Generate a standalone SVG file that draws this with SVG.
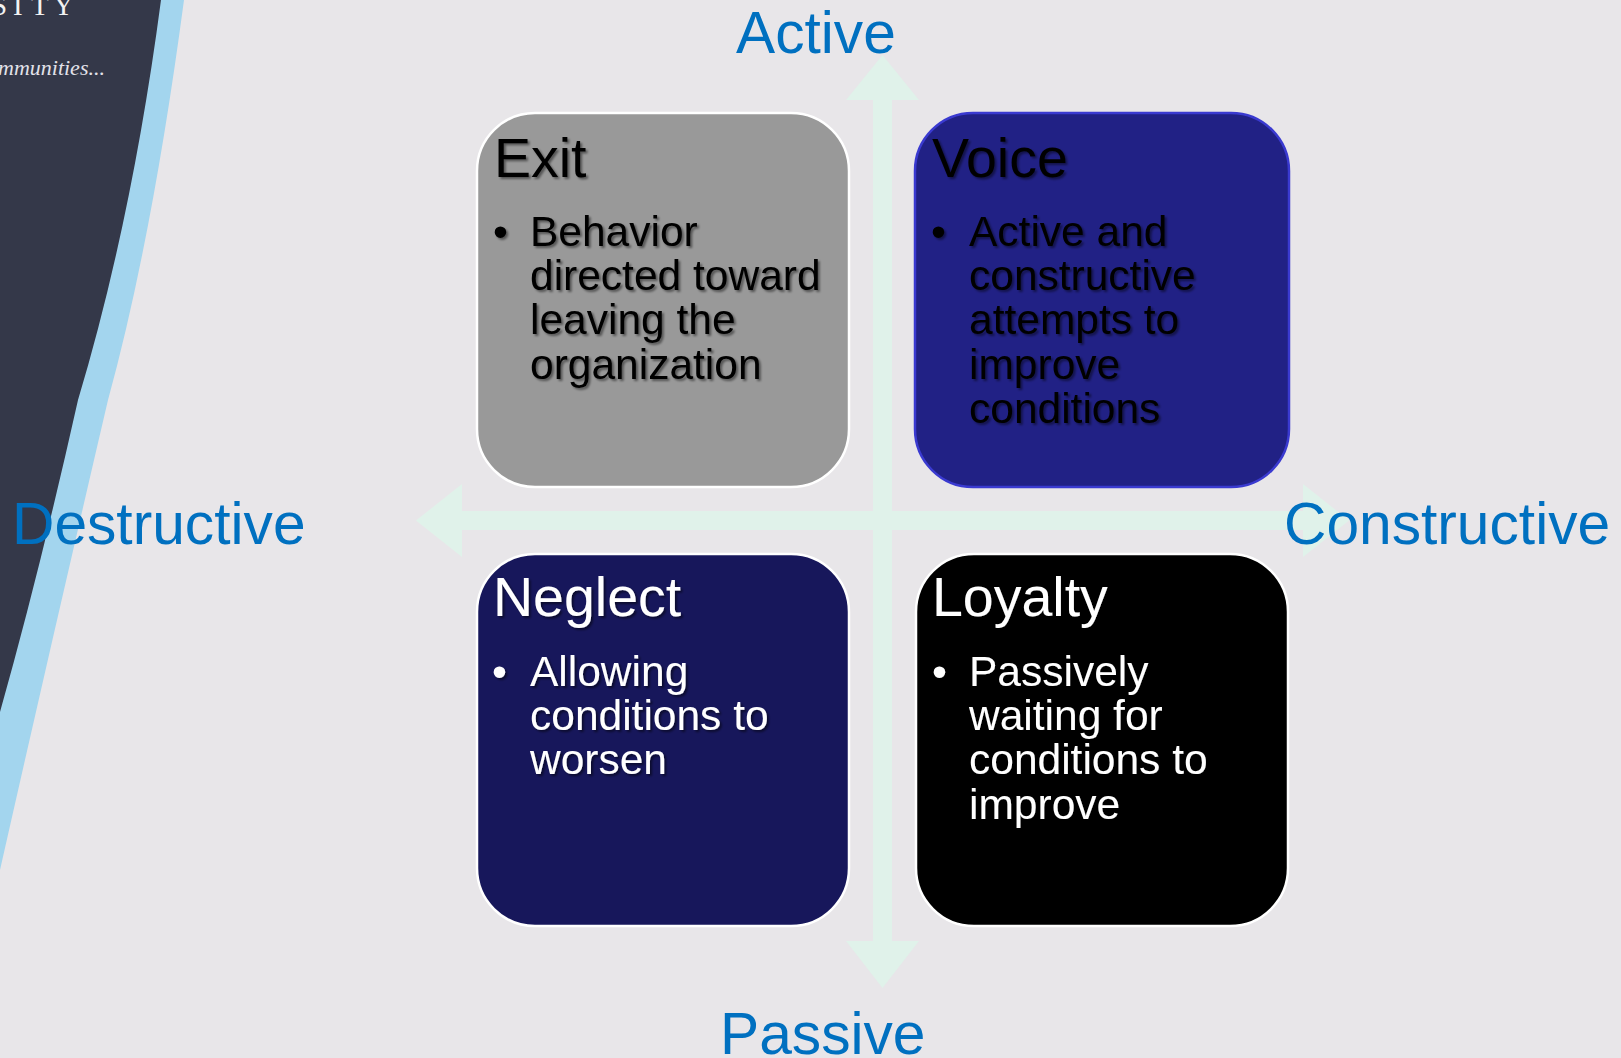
<svg xmlns="http://www.w3.org/2000/svg" width="1621" height="1058" viewBox="0 0 1621 1058">
  <defs>
    <style>
      .bg { fill: #e8e6e9; }
      .axis { fill: #e0f2ea; }
      .box { stroke-width: 2.5; }
      .title { font-family: "Liberation Sans", Arial, sans-serif; font-size: 55.5px; }
      .body { font-family: "Liberation Sans", Arial, sans-serif; font-size: 42.5px; }
      .label { font-family: "Liberation Sans", Arial, sans-serif; font-size: 58.7px; fill: #0070c0; }
      .dark { fill: #000000; filter: url(#shadow); }
      .light { fill: #ffffff; filter: url(#shadowLight); }
    </style>
    <filter id="shadow" x="-10%" y="-20%" width="130%" height="150%">
      <feDropShadow dx="2" dy="2" stdDeviation="1.3" flood-color="#000000" flood-opacity="0.45"/>
    </filter>
    <filter id="shadowLight" x="-10%" y="-20%" width="130%" height="150%">
      <feDropShadow dx="2" dy="2" stdDeviation="1.3" flood-color="#000000" flood-opacity="0.5"/>
    </filter>
  </defs>

  <rect class="bg" x="0" y="0" width="1621" height="1058"/>

  <!-- left decoration -->
  <g id="decoration">
    <path d="M0,0 L184,0 Q152,240 108,400 Q52,640 0,870 Z" fill="#a3d5ee"/>
    <path d="M0,0 L161,0 Q132,220 78,400 Q40,570 0,712 Z" fill="#343849"/>
    <text font-family="'Liberation Serif', 'Times New Roman', serif" font-size="29" fill="#f2f2f2" x="-9 13 31 53" y="15">SITY</text>
    <text font-family="'Liberation Serif', 'Times New Roman', serif" font-size="22" font-style="italic" fill="#e2e2ea" x="-2" y="75">mmunities...</text>
  </g>

  <!-- connectors: axes -->
  <g id="connectors">
    <path class="axis" d="M416,520.5 L462,484 L462,511 L1303,511 L1303,484 L1349,520.5 L1303,557 L1303,530 L462,530 L462,557 Z"/>
    <path class="axis" d="M882.5,55 L919,100 L892,100 L892,941 L919,941 L882.5,988 L846,941 L873,941 L873,100 L846,100 Z"/>
  </g>

  <!-- nodes -->
  <g id="exit">
    <rect class="box" x="477" y="113" width="372" height="374" rx="58" ry="58" fill="#999999" stroke="#ffffff"/>
    <text class="title dark" x="494" y="177">Exit</text>
    <text class="body dark" x="493" y="246">•</text>
    <text class="body dark">
      <tspan x="530" y="246">Behavior</tspan>
      <tspan x="530" y="290.2">directed toward</tspan>
      <tspan x="530" y="334.4">leaving the</tspan>
      <tspan x="530" y="378.6">organization</tspan>
    </text>
  </g>

  <g id="voice">
    <rect class="box" x="915" y="113" width="374" height="374" rx="58" ry="58" fill="#212185" stroke="#3a3ad0"/>
    <text class="title dark" x="932" y="177">Voice</text>
    <text class="body dark" x="931" y="246">•</text>
    <text class="body dark">
      <tspan x="969" y="246">Active and</tspan>
      <tspan x="969" y="290.2">constructive</tspan>
      <tspan x="969" y="334.4">attempts to</tspan>
      <tspan x="969" y="378.6">improve</tspan>
      <tspan x="969" y="422.8">conditions</tspan>
    </text>
  </g>

  <g id="neglect">
    <rect class="box" x="477" y="554" width="372" height="372" rx="58" ry="58" fill="#17175b" stroke="#ffffff"/>
    <text class="title light" x="493" y="616">Neglect</text>
    <text class="body light" x="492" y="686">•</text>
    <text class="body light">
      <tspan x="530" y="686">Allowing</tspan>
      <tspan x="530" y="730.2">conditions to</tspan>
      <tspan x="530" y="774.4">worsen</tspan>
    </text>
  </g>

  <g id="loyalty">
    <rect class="box" x="916" y="554" width="372" height="372" rx="58" ry="58" fill="#000000" stroke="#ffffff"/>
    <text class="title light" x="932" y="616">Loyalty</text>
    <text class="body light" x="932" y="686">•</text>
    <text class="body light">
      <tspan x="969" y="686">Passively</tspan>
      <tspan x="969" y="730.2">waiting for</tspan>
      <tspan x="969" y="774.4">conditions to</tspan>
      <tspan x="969" y="818.6">improve</tspan>
    </text>
  </g>

  <!-- axis labels -->
  <g id="labels">
    <text class="label" x="736" y="53">Active</text>
    <text class="label" x="720" y="1054">Passive</text>
    <text class="label" x="12" y="544">Destructive</text>
    <text class="label" x="1284" y="544">Constructive</text>
  </g>
</svg>
